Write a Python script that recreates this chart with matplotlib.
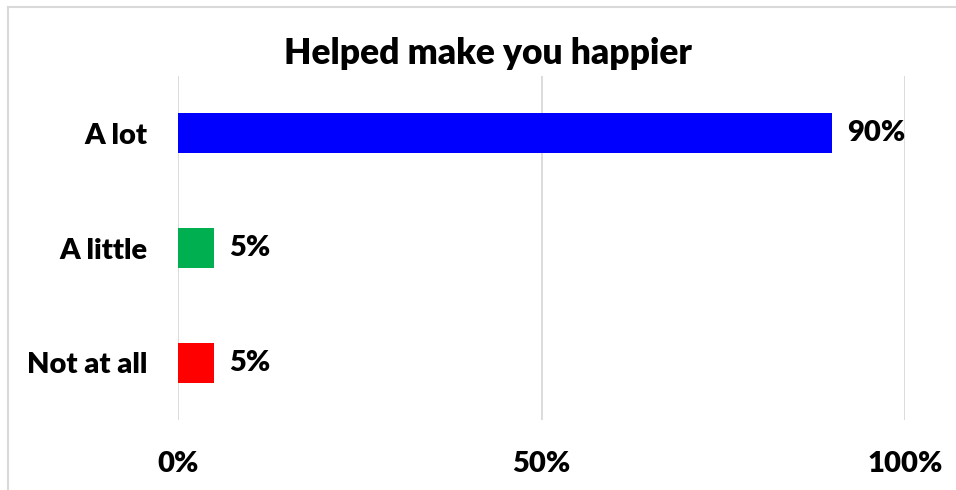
import matplotlib.pyplot as plt
from matplotlib.lines import Line2D

# dados do gráfico
categories = ['A lot', 'A little', 'Not at all']
values = [90, 5, 5]
colors = ['#0000FF', '#00B050', '#FF0000']
ticks = [0, 50, 100]
tick_labels = ['0%', '50%', '100%']

plt.rcParams['font.family'] = ['Lato', 'DejaVu Sans']
W = 'heavy'
FS = 21

fig = plt.figure(figsize=(9.56, 4.9), dpi=100)
ax = fig.add_axes([178 / 956, 1 - 420 / 490, 727 / 956, 344 / 490])

ypos = list(range(len(categories)))
ax.barh(ypos, values, height=0.35, color=colors)
ax.set_ylim(len(categories) - 0.5, -0.5)
ax.set_xlim(0, 100)

for y, v in zip(ypos, values):
    ax.text(v + 2.1, y, f'{v}%', va='center', ha='left', fontsize=FS, fontweight=W)

ax.set_yticks(ypos)
ax.set_yticklabels(categories, fontsize=FS, fontweight=W)
ax.set_xticks(ticks)
ax.set_xticklabels(tick_labels, fontsize=FS, fontweight=W)
ax.tick_params(axis='both', length=0)
ax.tick_params(axis='y', pad=22)
ax.tick_params(axis='x', pad=22)
ax.grid(axis='x', color='#D9D9D9', linewidth=1.3)
ax.set_axisbelow(True)
for s in ax.spines.values():
    s.set_visible(False)

fig.text(488 / 956, 1 - 53 / 490, 'Helped make you happier', ha='center', va='center',
         fontsize=25.5, fontweight=W)

# borda do gráfico
fig.add_artist(Line2D([8 / 956, 8 / 956], [0, 1 - 7 / 490], color='#D9D9D9', linewidth=1.5))
fig.add_artist(Line2D([8 / 956, 1], [1 - 7 / 490, 1 - 7 / 490], color='#D9D9D9', linewidth=1.5))

fig.savefig('out.png', dpi=100)
